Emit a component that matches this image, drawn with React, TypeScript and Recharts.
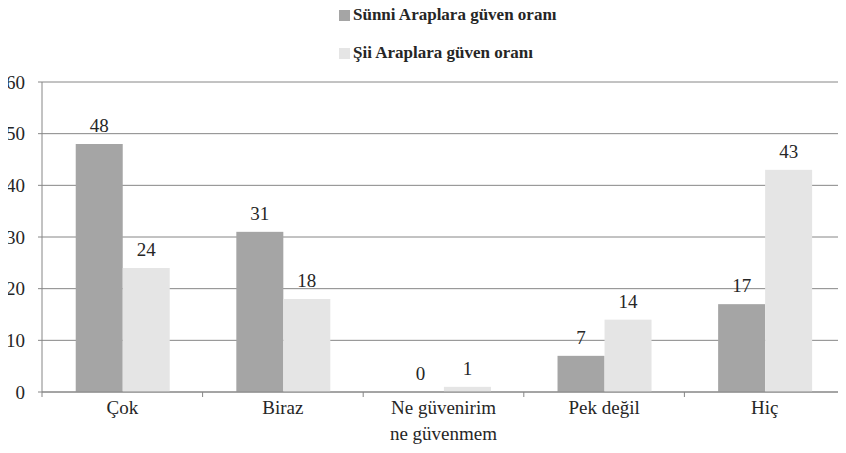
import { BarChart, Bar, XAxis, YAxis, CartesianGrid } from "recharts";

const categories = ["Çok", "Biraz", "Ne güvenirim\nne güvenmem", "Pek değil", "Hiç"];
const sunniValues = [48, 31, 0, 7, 17];
const siiValues = [24, 18, 1, 14, 43];
const yTicks = [0, 10, 20, 30, 40, 50, 60];
const seriesNames = ["Sünni Araplara güven oranı", "Şii Araplara güven oranı"];

const W = 846;
const H = 453;
const MARGIN = { top: 82, right: 1, left: 0, bottom: 6 };
const Y_WIDTH = 42;
const FONT = "Liberation Serif, Times New Roman, serif";
const TEXT = "#262626";
const GRID = "#868686";
const COLORS = ["#a5a5a5", "#e5e5e5"];

const data = categories.map((c, i) => ({
  name: c,
  sunni: sunniValues[i],
  sii: siiValues[i],
}));

const halfBand = (W - MARGIN.left - MARGIN.right - Y_WIDTH) / categories.length / 2;

// category label, with the tick mark on the boundary between categories (Excel style)
function CategoryTick(props: any) {
  const { x, y, payload, index } = props;
  const lines = String(payload.value).split("\n");
  return (
    <g>
      <line x1={x - halfBand} x2={x - halfBand} y1={y} y2={y + 5} stroke={GRID} />
      {index === categories.length - 1 && (
        <line x1={x + halfBand} x2={x + halfBand} y1={y} y2={y + 5} stroke={GRID} />
      )}
      <text x={x} y={y + 22} textAnchor="middle" fill={TEXT} fontSize={19} fontFamily={FONT}>
        {lines.map((l, i) => (
          <tspan key={i} x={x} dy={i === 0 ? 0 : 26}>
            {l}
          </tspan>
        ))}
      </text>
    </g>
  );
}

// bar with its value drawn above, so zero-height bars still get their label
const barWithLabel = (key: string, fill: string) => (p: any) => (
  <g>
    {p.height > 0 && <rect x={p.x} y={p.y} width={p.width} height={p.height} fill={fill} />}
    <text
      x={p.x + p.width / 2}
      y={p.y - 12}
      textAnchor="middle"
      fill={TEXT}
      fontSize={19}
      fontFamily={FONT}
    >
      {p.payload[key]}
    </text>
  </g>
);

export default function App() {
  return (
    <div style={{ position: "relative", width: W, height: H, margin: -8, background: "#fff" }}>
      <div
        style={{
          position: "absolute",
          top: 4,
          left: 339,
          fontFamily: FONT,
          fontWeight: "bold",
          fontSize: 17,
          color: TEXT,
        }}
      >
        {seriesNames.map((n, i) => (
          <div key={n} style={{ display: "flex", alignItems: "center", height: 22, marginBottom: i === 0 ? 16 : 0 }}>
            <span style={{ display: "inline-block", width: 11, height: 11, background: COLORS[i], marginRight: 3 }} />
            {n}
          </div>
        ))}
      </div>
      <BarChart width={W} height={H} data={data} margin={MARGIN} barCategoryGap="21%" barGap={0}>
        <CartesianGrid vertical={false} stroke={GRID} strokeWidth={1} />
        <XAxis
          dataKey="name"
          axisLine={{ stroke: GRID }}
          tickLine={false}
          tickSize={0}
          tickMargin={0}
          height={55}
          interval={0}
          tick={<CategoryTick />}
        />
        <YAxis
          domain={[0, 60]}
          ticks={yTicks}
          width={Y_WIDTH}
          axisLine={{ stroke: GRID }}
          tickLine={{ stroke: GRID }}
          tickSize={4}
          tickMargin={13}
          tick={{ fill: TEXT, fontSize: 19, fontFamily: FONT }}
        />
        <Bar
          dataKey="sunni"
          name={seriesNames[0]}
          fill={COLORS[0]}
          isAnimationActive={false}
          shape={barWithLabel("sunni", COLORS[0])}
        />
        <Bar
          dataKey="sii"
          name={seriesNames[1]}
          fill={COLORS[1]}
          isAnimationActive={false}
          shape={barWithLabel("sii", COLORS[1])}
        />
      </BarChart>
    </div>
  );
}
